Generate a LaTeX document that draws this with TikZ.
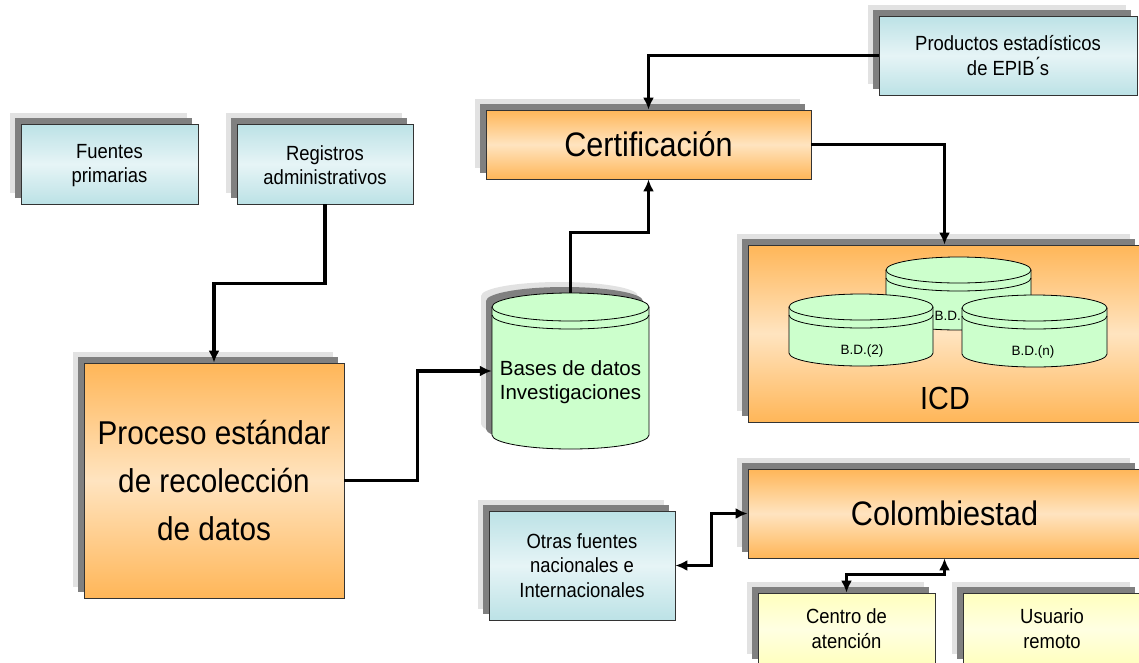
\documentclass[tikz,border=0pt]{standalone}
\usepackage{fontspec}
\setmainfont{Liberation Sans}
\newfontfamily\narrowfont[FakeStretch=0.9]{Liberation Sans}
\usetikzlibrary{arrows.meta,shadows}

\definecolor{blueTop}{RGB}{188,226,230}
\definecolor{blueMid}{RGB}{230,244,246}
\definecolor{orangeTop}{RGB}{255,182,88}
\definecolor{orangeMid}{RGB}{255,228,192}
\definecolor{yellowTop}{RGB}{255,255,190}
\definecolor{yellowMid}{RGB}{255,255,226}
\definecolor{dbGreen}{RGB}{204,255,204}
\definecolor{shadowDark}{RGB}{128,128,128}
\definecolor{shadowLight}{RGB}{226,226,226}

% drum outline: x, y of top centre, x radius, y radius, height, options
\newcommand{\drumbody}[6]{%
  \path[#6] ({#1-#3},#2) -- ({#1-#3},{#2-#5})
    arc[start angle=180,end angle=360,x radius=#3,y radius=#4]
    -- ({#1+#3},#2)
    arc[start angle=0,end angle=180,x radius=#3,y radius=#4] -- cycle;}
% green drum with its rim
\newcommand{\drum}[5]{%
  \drumbody{#1}{#2}{#3}{#4}{#5}{fill=dbGreen,draw=black,line width=0.8pt}
  \draw[line width=0.8pt] ({#1-#3},#2) arc[start angle=180,end angle=360,x radius=#3,y radius=#4];
  \draw[line width=0.8pt] ({#1-#3},{#2-8}) arc[start angle=180,end angle=360,x radius=#3,y radius=#4];}

\begin{document}
\begin{tikzpicture}[x=1pt,y=1pt,
  conn/.style={line width=3.2pt,-{Latex[length=12pt,width=11pt]}},
  bothconn/.style={line width=3.2pt,{Latex[length=12pt,width=11pt]}-{Latex[length=12pt,width=11pt]}},
  boxshadow/.style={general shadow={fill=shadowLight,shadow xshift=-11pt,shadow yshift=11pt},
    general shadow={fill=shadowDark,shadow xshift=-6pt,shadow yshift=6pt}},
  box/.style={boxshadow,draw=black!80,line width=0.8pt,inner sep=0pt,align=center},
  bluebox/.style={box,top color=blueTop,bottom color=blueTop,middle color=blueMid,
    font=\narrowfont\fontsize{20.5}{24.5}\selectfont},
  orangebox/.style={box,top color=orangeTop,bottom color=orangeTop,middle color=orangeMid,
    font=\narrowfont\fontsize{34}{40}\selectfont},
  yellowbox/.style={box,top color=yellowTop,bottom color=yellowTop,middle color=yellowMid,
    font=\narrowfont\fontsize{20.5}{25}\selectfont},
  dbtext/.style={font=\fontsize{20.5}{23.5}\selectfont,align=center,inner sep=0pt},
  bdtext/.style={font=\fontsize{13.5}{16}\selectfont,inner sep=0pt}]
\useasboundingbox (0,0) rectangle (1139,-662);

% sources
\node[bluebox,minimum width=177,minimum height=80] (fuentes) at (109.5,-164) {\strut Fuentes\\primarias};
\node[bluebox,minimum width=176,minimum height=80] (registros) at (325,-164) {\strut Registros\\administrativos};
\node[bluebox,minimum width=258,minimum height=79] (productos) at (1008,-55.5) {Productos estad\'isticos\\de EPIB\'{}s};

\node[orangebox,minimum width=325,minimum height=69] (certif) at (648.5,-144.5) {Certificaci\'on};
\node[orangebox,minimum width=260,minimum height=235,font=\narrowfont\fontsize{33}{48}\selectfont]
  (proceso) at (214,-480.5) {Proceso est\'andar\\de recolecci\'on\\de datos};

% bases de datos
\drumbody{559.5}{-296}{78.5}{14}{128}{fill=shadowLight}
\drumbody{564.5}{-301}{78.5}{14}{128}{fill=shadowDark}
\drum{570.5}{-307}{78.5}{14}{128}
\node[minimum width=157,minimum height=156,inner sep=0pt] (bases) at (570.5,-371) {};
\node[dbtext] (basestext) at (570.5,-382) {Bases de datos\\Investigaciones};

% ICD
\node[orangebox,minimum width=393,minimum height=177] (icd) at (944.5,-333.5) {};
\drum{958.5}{-270}{72.5}{13}{47}
\node[bdtext,anchor=east] (bd1) at (961,-316) {B.D.};
\drum{861}{-307}{72}{13}{46}
\node[bdtext] (bd2) at (862,-351) {B.D.(2)};
\drum{1034.5}{-308}{72.5}{13}{46}
\node[bdtext] (bdn) at (1033,-352) {B.D.(n)};
\node[font=\narrowfont\fontsize{32}{36}\selectfont,inner sep=0pt] (icdtitle) at (945,-398) {ICD};

% diffusion
\node[orangebox,minimum width=393,minimum height=89] (colombia) at (944.5,-513.5) {Colombiestad};
\node[bluebox,minimum width=186,minimum height=109] (otras) at (582,-565.5) {Otras fuentes\\nacionales e\\Internacionales};
\node[yellowbox,minimum width=177,minimum height=72] (centro) at (846.5,-629) {Centro de\\atenci\'on};
\node[yellowbox,minimum width=178,minimum height=72] (usuario) at (1052,-629) {Usuario\\remoto};

% connectors
\draw[conn] (registros.south) -- ++(0,-79) -| (proceso.north);
\draw[conn] (proceso.east) -- ++(73,0) |- (bases.west);
\draw[conn] (bases.north) -- ++(0,60) -| (certif.south);
\draw[conn] (productos.west) -| (certif.north);
\draw[conn] (certif.east) -| (icd.north);
\draw[bothconn] (otras.east) -- ++(36,0) |- (colombia.west);
\draw[bothconn] (centro.north) -- ++(0,18) -| (colombia.south);
\end{tikzpicture}
\end{document}
